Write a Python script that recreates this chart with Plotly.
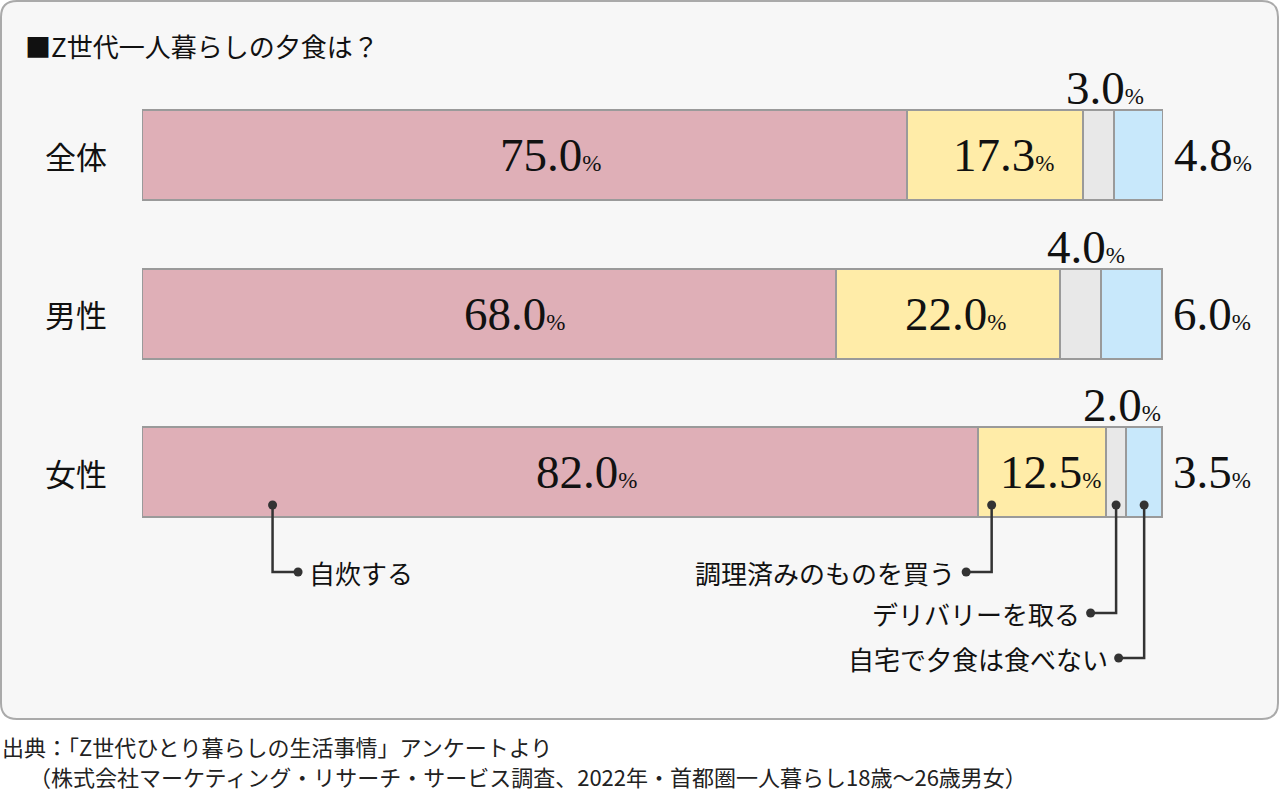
import plotly.graph_objects as go

W, H = 1280, 794

# ---- data ----
title = "■Z世代一人暮らしの夕食は？"
groups = ["全体", "男性", "女性"]
series_names = ["自炊する", "調理済みのものを買う", "デリバリーを取る", "自宅で夕食は食べない"]
cook = [75.0, 68.0, 82.0]
bought = [17.3, 22.0, 12.5]
delivery = [3.0, 4.0, 2.0]
none_home = [4.8, 6.0, 3.5]
colors = ["#dfafb7", "#ffeca8", "#e8e8e8", "#c8e8fb"]
source_lines = [
    "出典：「Z世代ひとり暮らしの生活事情」アンケートより",
    "　 （株式会社マーケティング・リサーチ・サービス調査、2022年・首都圏一人暮らし18歳〜26歳男女）",
]

series = [cook, bought, delivery, none_home]
XMAX = max(sum(v) for v in zip(*series))

# layout helpers (pixel -> paper)
def xp(px):
    return px / W

def yp(px):
    return 1 - px / H

ROW0, ROWSTEP = 155.0, 158.5  # pixel centre of first bar, spacing
BAR_W = 90 / ROWSTEP

def yrow(px):
    return (px - ROW0) / ROWSTEP

fig = go.Figure()

ys = list(range(len(groups)))
for name, vals, col in zip(series_names, series, colors):
    fig.add_trace(go.Bar(
        y=ys, x=vals, orientation="h", name=name, width=BAR_W,
        marker=dict(color=col, line=dict(color="#9a9a9a", width=2)),
        hoverinfo="skip", showlegend=False, cliponaxis=False,
    ))

ann = []
num_font = dict(family="Liberation Serif", size=47, color="#111")
jp = "Noto Sans CJK JP"


def lab(v):
    return f"{v:.1f}<span style='font-size:23px'>%</span>"

for i, g in enumerate(groups):
    ann.append(dict(x=xp(76), y=i, xref="paper", yref="y", text=g, showarrow=False,
                    font=dict(family=jp, size=31, color="#111"),
                    xanchor="center", yanchor="middle"))
    base = 0.0
    for k, vals in enumerate(series):
        v = vals[i]
        mid = base + v / 2
        if k == 0:
            ann.append(dict(x=mid, y=i, xref="x", yref="y", text=lab(v), showarrow=False,
                            font=num_font, xanchor="center", yanchor="middle", xshift=26))
        elif k == 1:
            ann.append(dict(x=mid, y=i, xref="x", yref="y", text=lab(v), showarrow=False,
                            font=num_font, xanchor="center", yanchor="middle", xshift=8))
        elif k == 2:
            ann.append(dict(x=mid, y=i - 0.42, xref="x", yref="y", text=lab(v), showarrow=False,
                            font=num_font, xanchor="center", yanchor="middle", xshift=6))
        else:
            ann.append(dict(x=base + v, y=i, xref="x", yref="y", text=lab(v), showarrow=False,
                            font=num_font, xanchor="left", yanchor="middle", xshift=9))
        base += v

# callouts from the last row (女性)
r = len(groups) - 1
starts = [0.0, cook[r], cook[r] + bought[r], cook[r] + bought[r] + delivery[r]]
anchor_x = [12.8, starts[1] + 1.3, starts[2] + delivery[r] / 2, starts[3] + none_home[r] / 2]
elbow_px = [572, 572, 613, 658]
direction = [1, -1, -1, -1]
seg = 2.5  # horizontal arm length in data units
dot_y = r + BAR_W / 2 - 12 / ROWSTEP
line_col = "#333333"
dots_x, dots_y = [], []
for k in range(4):
    ey = yrow(elbow_px[k])
    ex = anchor_x[k] + direction[k] * seg
    fig.add_trace(go.Scatter(x=[anchor_x[k], anchor_x[k], ex], y=[dot_y, ey, ey], mode="lines",
                             line=dict(color=line_col, width=2.5), hoverinfo="skip", showlegend=False))
    dots_x += [anchor_x[k], ex]
    dots_y += [dot_y, ey]
    ann.append(dict(x=ex, y=ey, xref="x", yref="y", text=series_names[k], showarrow=False,
                    font=dict(family=jp, size=26, color="#111"),
                    xanchor="left" if direction[k] > 0 else "right", yanchor="middle",
                    xshift=9 * direction[k]))
fig.add_trace(go.Scatter(x=dots_x, y=dots_y, mode="markers",
                         marker=dict(color=line_col, size=9), hoverinfo="skip", showlegend=False))

# title and source
ann.append(dict(x=xp(23), y=yp(45), xref="paper", yref="paper", text=title, showarrow=False,
                font=dict(family=jp, size=26, color="#111"),
                xanchor="left", yanchor="middle"))
for j, t in enumerate(source_lines):
    ann.append(dict(x=xp(0), y=yp(746 + 30 * j), xref="paper", yref="paper", text=t, showarrow=False,
                    font=dict(family=jp, size=22, color="#222"),
                    xanchor="left", yanchor="middle"))

# rounded panel
x0, x1, y0, y1, rr = 1, 1278, 1, 719, 16
path = (f"M {xp(x0+rr)} {yp(y0)} L {xp(x1-rr)} {yp(y0)} Q {xp(x1)} {yp(y0)} {xp(x1)} {yp(y0+rr)} "
        f"L {xp(x1)} {yp(y1-rr)} Q {xp(x1)} {yp(y1)} {xp(x1-rr)} {yp(y1)} "
        f"L {xp(x0+rr)} {yp(y1)} Q {xp(x0)} {yp(y1)} {xp(x0)} {yp(y1-rr)} "
        f"L {xp(x0)} {yp(y0+rr)} Q {xp(x0)} {yp(y0)} {xp(x0+rr)} {yp(y0)} Z")
shapes = [dict(type="path", path=path, xref="paper", yref="paper", layer="below",
               fillcolor="#f7f7f7", line=dict(color="#aaaaaa", width=2))]

fig.update_layout(
    width=W, height=H, margin=dict(l=0, r=0, t=0, b=0),
    paper_bgcolor="white", plot_bgcolor="rgba(0,0,0,0)",
    barmode="stack", bargap=0,
    xaxis=dict(domain=[xp(142), xp(142 + 10.2 * XMAX)], range=[0, XMAX], visible=False, fixedrange=True),
    yaxis=dict(domain=[0, 1], range=[yrow(H), yrow(0)], visible=False, fixedrange=True),
    annotations=ann, shapes=shapes,
)

fig.write_html("out.html", config={"displayModeBar": False})
